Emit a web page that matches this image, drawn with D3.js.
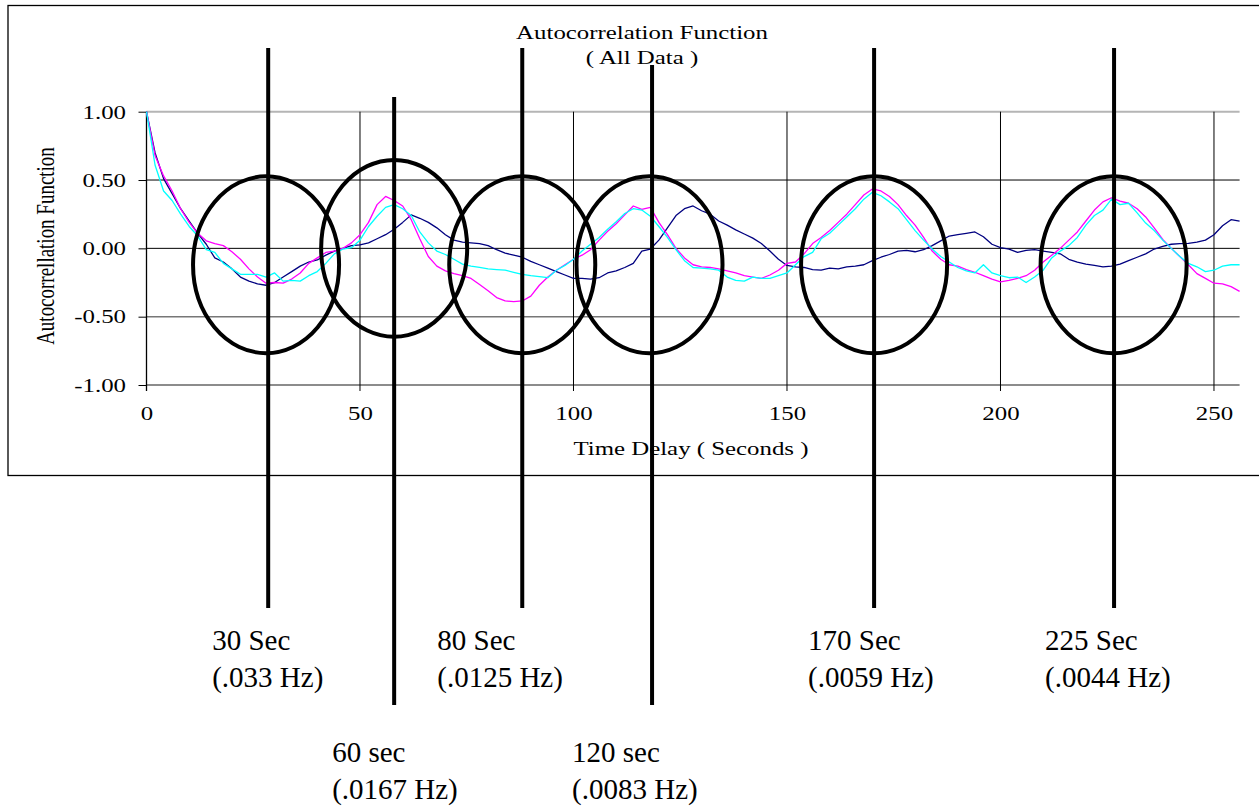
<!DOCTYPE html>
<html>
<head>
<meta charset="utf-8">
<script src="https://cdn.jsdelivr.net/npm/d3@7"></script>
<style>
  html, body { margin: 0; padding: 0; background: #fff; }
  svg { display: block; }
  text { font-family: "Liberation Serif", "Times New Roman", serif; fill: #000; }
</style>
</head>
<body>
<svg id="chart" width="1259" height="806"></svg>
<script>
// Autocorrelation of three records, sampled every 2 seconds of delay (0 .. 256 s)
const lagStep = 2;

const seriesNavy = [
  1.00, 0.70, 0.51, 0.40, 0.29, 0.20, 0.11, 0.03, -0.07, -0.10,
  -0.15, -0.21, -0.24, -0.26, -0.27, -0.25, -0.21, -0.17, -0.13, -0.10,
  -0.085, -0.05, -0.02, 0.00, 0.02, 0.025, 0.04, 0.07, 0.10, 0.14,
  0.19, 0.245, 0.22, 0.19, 0.15, 0.10, 0.06, 0.045, 0.04, 0.035,
  0.02, -0.01, -0.035, -0.05, -0.065, -0.095, -0.12, -0.145, -0.17, -0.195,
  -0.22, -0.22, -0.225, -0.215, -0.18, -0.165, -0.14, -0.11, -0.02, -0.005,
  0.06, 0.15, 0.24, 0.29, 0.31, 0.275, 0.25, 0.20, 0.17, 0.135,
  0.105, 0.075, 0.035, -0.02, -0.08, -0.125, -0.135, -0.14, -0.155, -0.16,
  -0.145, -0.15, -0.135, -0.13, -0.12, -0.09, -0.065, -0.045, -0.02, -0.015,
  -0.025, -0.01, 0.02, 0.055, 0.09, 0.10, 0.11, 0.12, 0.085, 0.03,
  0.005, -0.005, -0.03, -0.015, -0.01, -0.02, -0.03, -0.04, -0.08, -0.10,
  -0.115, -0.125, -0.135, -0.13, -0.115, -0.09, -0.065, -0.04, -0.005, 0.015,
  0.03, 0.035, 0.037, 0.045, 0.06, 0.10, 0.165, 0.21, 0.20
];

const seriesMagenta = [
  1.00, 0.68, 0.53, 0.42, 0.29, 0.19, 0.11, 0.055, 0.035, 0.02,
  -0.025, -0.08, -0.15, -0.21, -0.255, -0.25, -0.255, -0.225, -0.18, -0.11,
  -0.07, -0.03, -0.02, 0.00, 0.04, 0.10, 0.19, 0.32, 0.38, 0.35,
  0.31, 0.21, 0.07, -0.06, -0.13, -0.165, -0.185, -0.20, -0.22, -0.265,
  -0.31, -0.36, -0.385, -0.39, -0.385, -0.35, -0.27, -0.21, -0.16, -0.12,
  -0.08, -0.05, -0.01, 0.06, 0.125, 0.18, 0.245, 0.31, 0.285, 0.30,
  0.19, 0.10, 0.00, -0.07, -0.12, -0.135, -0.14, -0.15, -0.165, -0.18,
  -0.20, -0.21, -0.22, -0.195, -0.16, -0.11, -0.10, -0.04, 0.035, 0.08,
  0.13, 0.19, 0.25, 0.32, 0.39, 0.435, 0.42, 0.38, 0.32, 0.24,
  0.17, 0.08, -0.02, -0.08, -0.12, -0.13, -0.155, -0.175, -0.20, -0.225,
  -0.245, -0.235, -0.22, -0.20, -0.16, -0.10, -0.05, 0.00, 0.06, 0.12,
  0.20, 0.28, 0.34, 0.37, 0.345, 0.33, 0.29, 0.23, 0.15, 0.065,
  0.00, -0.06, -0.12, -0.185, -0.22, -0.255, -0.26, -0.28, -0.315
];

const seriesCyan = [
  1.00, 0.61, 0.42, 0.35, 0.25, 0.16, 0.09, -0.01, -0.03, -0.11,
  -0.15, -0.19, -0.19, -0.19, -0.21, -0.18, -0.24, -0.235, -0.24, -0.20,
  -0.17, -0.11, -0.04, -0.005, 0.005, 0.06, 0.16, 0.235, 0.30, 0.32,
  0.29, 0.24, 0.12, 0.04, -0.02, -0.045, -0.08, -0.115, -0.13, -0.14,
  -0.15, -0.155, -0.16, -0.175, -0.19, -0.20, -0.207, -0.215, -0.16, -0.125,
  -0.08, -0.02, 0.03, 0.08, 0.14, 0.195, 0.255, 0.29, 0.28, 0.235,
  0.16, 0.08, -0.01, -0.09, -0.14, -0.145, -0.15, -0.16, -0.21, -0.235,
  -0.24, -0.21, -0.22, -0.22, -0.20, -0.18, -0.12, -0.06, -0.03, 0.07,
  0.11, 0.17, 0.23, 0.29, 0.36, 0.41, 0.385, 0.34, 0.29, 0.21,
  0.13, 0.06, -0.005, -0.06, -0.10, -0.14, -0.165, -0.18, -0.12, -0.18,
  -0.20, -0.215, -0.21, -0.25, -0.21, -0.16, -0.07, -0.02, 0.02, 0.08,
  0.17, 0.24, 0.28, 0.36, 0.32, 0.33, 0.26, 0.185, 0.13, 0.06,
  0.00, -0.06, -0.11, -0.135, -0.17, -0.16, -0.13, -0.12, -0.12
];

const seriesColors = ["#000080", "#ff00ff", "#00ffff"];

// Axis ticks
const xTicks = [0, 50, 100, 150, 200, 250];
const yTicks = [-1, -0.5, 0, 0.5, 1];

// Marked periods: delay (s), period text, frequency text
const markLag = [28.5, 58, 88, 118.4, 170.4, 226.6];
const markPeriod = ["30 Sec", "60 sec", "80 Sec", "120 sec", "170 Sec", "225 Sec"];
const markFreq = ["(.033 Hz)", "(.0167 Hz)", "(.0125 Hz)", "(.0083 Hz)", "(.0059 Hz)", "(.0044 Hz)"];
// Ellipse centres (delay, correlation) and half-extents in data units
const ringLag = [28, 58, 88, 117.8, 170.4, 226.5];
const ringCenter = [-0.12, 0.0, -0.12, -0.12, -0.12, -0.12];
const ringHalfLag = 17.1;
const ringHalfCorr = 0.647;

// ---- layout ----
const svg = d3.select("#chart");
const W = 1259, H = 806;
const stretch = 1.38;            // horizontal stretch of the chart lettering
const chartFont = 18;

const x = d3.scaleLinear().domain([0, 256]).range([146.5, 1239.6]);
const y = d3.scaleLinear().domain([-1, 1]).range([385, 111.7]);

// outer chart frame
svg.append("rect")
  .attr("x", 8).attr("y", 5.5)
  .attr("width", 1272).attr("height", 470)
  .attr("fill", "none").attr("stroke", "#000").attr("stroke-width", 1.3);

// horizontal grid lines
const hStyle = v => v === 1 ? ["#b5b5b5", 2] : (v === -1 ? ["#666", 1.6] : (v === -0.5 ? ["#777", 1.6] : ["#000", 1]));
svg.append("g").selectAll("line").data(yTicks).join("line")
  .attr("x1", x(0)).attr("x2", x(256))
  .attr("y1", d => y(d)).attr("y2", d => y(d))
  .attr("stroke", d => hStyle(d)[0])
  .attr("stroke-width", d => hStyle(d)[1]);

// vertical grid lines (extend slightly below as ticks)
svg.append("g").selectAll("line").data(xTicks).join("line")
  .attr("x1", d => x(d)).attr("x2", d => x(d))
  .attr("y1", y(1)).attr("y2", y(-1) + 6)
  .attr("stroke", "#000").attr("stroke-width", d => d === 0 ? 1.3 : 1);

// y axis ticks + labels
const yAxis = svg.append("g")
  .attr("transform", `translate(${x(0)},0)`)
  .call(d3.axisLeft(y).tickValues(yTicks).tickSize(8).tickFormat(d => d.toFixed(2)));
yAxis.select(".domain").remove();
yAxis.selectAll(".tick line").attr("stroke", "#000").attr("stroke-width", 1);
yAxis.selectAll(".tick text")
  .attr("x", -20.5 / stretch).attr("dy", "0.35em")
  .attr("transform", `scale(${stretch},1)`)
  .style("font-size", chartFont + "px")
  .style("font-family", "'Liberation Serif','Times New Roman',serif");

// x axis labels
const xAxis = svg.append("g")
  .attr("transform", `translate(0,${y(-1)})`)
  .call(d3.axisBottom(x).tickValues(xTicks).tickSize(0).tickFormat(d3.format("d")));
xAxis.select(".domain").remove();
xAxis.selectAll(".tick text")
  .attr("y", 35).attr("dy", "0")
  .attr("transform", `scale(${stretch},1)`)
  .style("font-size", chartFont + "px")
  .style("font-family", "'Liberation Serif','Times New Roman',serif");

// data lines
const line = d3.line()
  .x((d, i) => x(i * lagStep))
  .y(d => y(d));
svg.append("g").selectAll("path")
  .data([seriesNavy, seriesMagenta, seriesCyan]).join("path")
  .attr("d", d => line(d))
  .attr("fill", "none")
  .attr("stroke", (d, i) => seriesColors[i])
  .attr("stroke-width", 1.3)
  .attr("stroke-linejoin", "round");

// titles
function stretchedText(px, py, str, size, anchor) {
  svg.append("text")
    .attr("transform", `translate(${px},${py}) scale(${stretch},1)`)
    .attr("text-anchor", anchor || "middle")
    .style("font-size", size + "px")
    .text(str);
}
stretchedText(642, 39, "Autocorrelation Function", chartFont);
stretchedText(642, 64, "( All Data )", chartFont);
stretchedText(691, 455, "Time Delay ( Seconds )", chartFont);

svg.append("text")
  .attr("transform", `translate(45,246) scale(${stretch},1) rotate(-90)`)
  .attr("text-anchor", "middle")
  .attr("dy", "0.35em")
  .style("font-size", "19px")
  .text("Autocorrellation Function");

// period markers: ellipses and vertical bars with labels
const markTop = [48, 97, 48, 65, 48, 48];
const markBottom = [608, 705, 608, 705, 608, 608];
const labelDx = [-56, -62, -85, -80, -66, -69];
const labelBase = [650, 762, 650, 762, 650, 650];
const labelGap = 37;

const marks = svg.append("g");
marks.selectAll("ellipse").data(ringLag).join("ellipse")
  .attr("cx", d => x(d))
  .attr("cy", (d, i) => y(ringCenter[i]))
  .attr("rx", x(ringHalfLag) - x(0))
  .attr("ry", y(0) - y(ringHalfCorr))
  .attr("fill", "none").attr("stroke", "#000").attr("stroke-width", 4);

marks.selectAll("line").data(markLag).join("line")
  .attr("x1", d => x(d)).attr("x2", d => x(d))
  .attr("y1", (d, i) => markTop[i]).attr("y2", (d, i) => markBottom[i])
  .attr("stroke", "#000").attr("stroke-width", 4);

markLag.forEach((lag, i) => {
  const t = marks.append("text")
    .attr("x", x(lag) + labelDx[i])
    .attr("y", labelBase[i])
    .style("font-size", "29px");
  t.append("tspan").attr("x", x(lag) + labelDx[i]).attr("y", labelBase[i]).text(markPeriod[i]);
  t.append("tspan").attr("x", x(lag) + labelDx[i]).attr("y", labelBase[i] + labelGap).text(markFreq[i]);
});
</script>
</body>
</html>
